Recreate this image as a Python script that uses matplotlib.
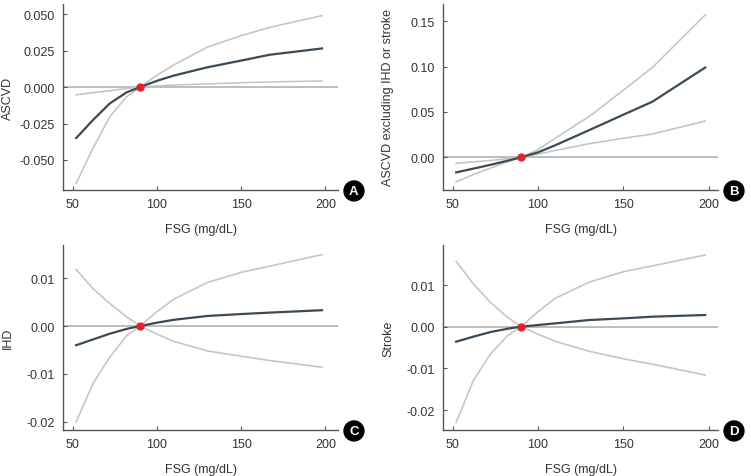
import numpy as np
import matplotlib.pyplot as plt

# FSG grid (mg/dL)
fsg = [52, 62, 72, 82, 90, 100, 110, 130, 150, 167, 198]

# Panel A: ASCVD
ascvd_est = [-0.035, -0.0226, -0.0112, -0.0036, 0, 0.0043, 0.0079, 0.0136, 0.0182, 0.0222, 0.0265]
ascvd_ci1 = [-0.066, -0.042, -0.0203, -0.0066, 0, 0.0082, 0.0152, 0.0275, 0.0353, 0.041, 0.049]
ascvd_ci2 = [-0.0053, -0.0038, -0.0025, -0.0010, 0, 0.0008, 0.0014, 0.0022, 0.0030, 0.0035, 0.0042]

# Panel B: ASCVD excluding IHD or stroke
other_est = [-0.0166, -0.0125, -0.0083, -0.0038, 0, 0.0055, 0.0132, 0.030, 0.047, 0.0613, 0.099]
other_ci1 = [-0.027, -0.019, -0.012, -0.005, 0, 0.0085, 0.021, 0.045, 0.074, 0.099, 0.157]
other_ci2 = [-0.0066, -0.005, -0.0035, -0.0015, 0, 0.0035, 0.0075, 0.015, 0.021, 0.0257, 0.040]

# Panel C: IHD
ihd_est = [-0.0040, -0.0028, -0.0016, -0.0006, 0, 0.0007, 0.0013, 0.0021, 0.0025, 0.0028, 0.0033]
ihd_ci1 = [-0.020, -0.012, -0.0065, -0.0020, 0, 0.0030, 0.0056, 0.0091, 0.0112, 0.0125, 0.0149]
ihd_ci2 = [0.0118, 0.0078, 0.0047, 0.0019, 0, -0.0017, -0.0032, -0.0052, -0.0063, -0.0072, -0.0086]

# Panel D: Stroke
stroke_est = [-0.0036, -0.0024, -0.0013, -0.0005, 0, 0.0004, 0.0008, 0.0016, 0.0020, 0.0024, 0.0028]
stroke_ci1 = [-0.023, -0.013, -0.0066, -0.0022, 0, 0.0036, 0.0068, 0.0107, 0.0132, 0.0146, 0.0172]
stroke_ci2 = [0.0157, 0.0103, 0.0059, 0.0023, 0, -0.0018, -0.0035, -0.0059, -0.0077, -0.009, -0.0116]

ref_fsg = 90
x_ticks = [50, 100, 150, 200]

panels = [
    ("A", "ASCVD", ascvd_est, ascvd_ci1, ascvd_ci2,
     [-0.050, -0.025, 0.000, 0.025, 0.050], ["-0.050", "-0.025", "0.000", "0.025", "0.050"],
     (-0.0706, 0.057), (44.2, 207.5)),
    ("B", "ASCVD excluding IHD or stroke", other_est, other_ci1, other_ci2,
     [0.00, 0.05, 0.10, 0.15], ["0.00", "0.05", "0.10", "0.15"],
     (-0.036, 0.169), (44.3, 205.5)),
    ("C", "IHD", ihd_est, ihd_ci1, ihd_ci2,
     [-0.02, -0.01, 0.00, 0.01], ["-0.02", "-0.01", "0.00", "0.01"],
     (-0.0217, 0.0169), (44.2, 207.5)),
    ("D", "Stroke", stroke_est, stroke_ci1, stroke_ci2,
     [-0.02, -0.01, 0.00, 0.01], ["-0.02", "-0.01", "0.00", "0.01"],
     (-0.0248, 0.0196), (44.3, 205.5)),
]

plt.rcParams['font.family'] = ['Liberation Sans', 'DejaVu Sans']

fig = plt.figure(figsize=(7.51, 4.77), dpi=100)
boxes = [
    [0.0839, 0.5996, 0.3662, 0.3899],
    [0.5899, 0.5996, 0.3662, 0.3899],
    [0.0839, 0.0964, 0.3662, 0.3878],
    [0.5899, 0.0964, 0.3662, 0.3878],
]

dark = "#3a4a56"
light = "#c6c6c6"

for box, (letter, ylab, est, ci1, ci2, yt, ytl, ylim, xlim) in zip(boxes, panels):
    ax = fig.add_axes(box)
    ax.axhline(0, color="#b0b0b0", lw=1.2, zorder=1)
    ax.plot(fsg, ci1, color=light, lw=1.2, zorder=2)
    ax.plot(fsg, ci2, color=light, lw=1.2, zorder=2)
    ax.plot(fsg, est, color=dark, lw=1.6, zorder=3)
    ax.plot([ref_fsg], [0], "o", color="#e8202a", ms=5, zorder=4)

    ax.set_xlim(*xlim)
    ax.set_ylim(*ylim)
    ax.set_xticks(x_ticks)
    ax.set_yticks(yt)
    ax.set_yticklabels(ytl)
    for s in ["top", "right"]:
        ax.spines[s].set_visible(False)
    for s in ["left", "bottom"]:
        ax.spines[s].set_color("#555555")
        ax.spines[s].set_linewidth(1.0)
    ax.tick_params(direction="in", length=3, width=0.8, color="#555555",
                   labelsize=9, labelcolor="#333333", pad=6)
    ax.set_xlabel("FSG (mg/dL)", fontsize=9, color="#333333")
    ax.set_ylabel(ylab, fontsize=9, color="#333333")
    ax.xaxis.set_label_coords(0.5, -0.18)
    ax.yaxis.set_label_coords(-0.178, 0.5)

    ax.text(1.058, -0.005, letter, transform=ax.transAxes, ha="center", va="center",
            fontsize=9.5, fontweight="bold", color="white",
            bbox=dict(boxstyle="circle,pad=0.3", fc="black", ec="black"))

fig.savefig("out.png", dpi=100)
